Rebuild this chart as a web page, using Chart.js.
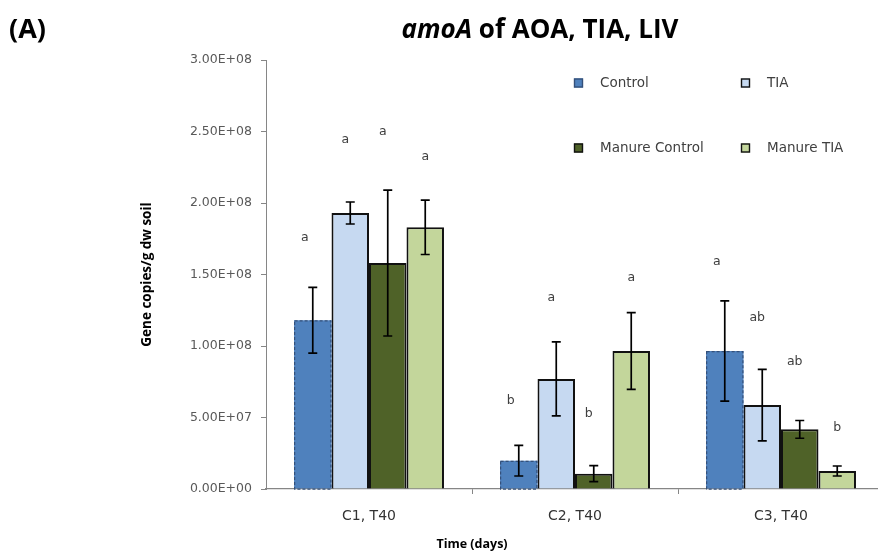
<!DOCTYPE html>
<html lang="en">
<head>
  <meta charset="UTF-8" />
  <title>amoA of AOA, TIA, LIV</title>
  <script src="https://cdn.jsdelivr.net/npm/chart.js"></script>
  <style>
    html, body {
      margin: 0;
      background: #fff;
      overflow: hidden;
    }
    #wrap {
      width: 886px;
      height: 552px;
    }
  </style>
</head>
<body>
  <div id="wrap"><canvas id="amoaChart" width="886" height="552"></canvas></div>

  <script>
    const categories = ['C1, T40', 'C2, T40', 'C3, T40'];
    const seriesNames = ['Control', 'TIA', 'Manure Control', 'Manure TIA'];

    // gene copies per g dry soil
    const control = [1.18e8, 1.98e7, 9.65e7];
    const tia = [1.93e8, 7.7e7, 5.87e7];
    const manureControl = [1.58e8, 1.07e7, 4.17e7];
    const manureTia = [1.83e8, 9.65e7, 1.26e7];

    // standard errors
    const controlErr = [2.3e7, 1.07e7, 3.5e7];
    const tiaErr = [7.7e6, 2.59e7, 2.5e7];
    const manureControlErr = [5.1e7, 5.6e6, 6.2e6];
    const manureTiaErr = [1.9e7, 2.68e7, 3.5e6];

    // significance letters and the height they sit at
    const controlLetters = ['a', 'b', 'a'];
    const tiaLetters = ['a', 'a', 'ab'];
    const manureControlLetters = ['a', 'b', 'ab'];
    const manureTiaLetters = ['a', 'a', 'b'];
    const controlLetterAt = [1.755e8, 6.17e7, 1.59e8];
    const tiaLetterAt = [2.44e8, 1.336e8, 1.198e8];
    const manureControlLetterAt = [2.497e8, 5.24e7, 8.9e7];
    const manureTiaLetterAt = [2.32e8, 1.476e8, 4.29e7];

    const yTicks = [0, 5e7, 1e8, 1.5e8, 2e8, 2.5e8, 3e8];

    const FONT = "'DejaVu Sans', sans-serif";
    const BOLD = "'Open Sans', sans-serif";
    const AXIS = '#868686';

    function sci(v) {
      const [m, e] = v.toExponential(2).split('e');
      return m + 'E' + e[0] + e.slice(1).padStart(2, '0');
    }

    const datasets = [
      { label: seriesNames[0], data: control, err: controlErr, letters: controlLetters, letterAt: controlLetterAt,
        backgroundColor: '#4f81bd', borderWidth: 0, dashed: true, shift: -8 },
      { label: seriesNames[1], data: tia, err: tiaErr, letters: tiaLetters, letterAt: tiaLetterAt,
        backgroundColor: '#c6d9f1', borderColor: '#111', borderWidth: 2, shift: -5 },
      { label: seriesNames[2], data: manureControl, err: manureControlErr, letters: manureControlLetters, letterAt: manureControlLetterAt,
        backgroundColor: '#4f6228', borderColor: '#111', borderWidth: 2, shift: -5 },
      { label: seriesNames[3], data: manureTia, err: manureTiaErr, letters: manureTiaLetters, letterAt: manureTiaLetterAt,
        backgroundColor: '#c3d69b', borderColor: '#111', borderWidth: 2, shift: 0 }
    ];

    // dashed outline, error bars and letters on top of the bars
    const barExtras = {
      id: 'barExtras',
      afterDatasetsDraw(chart) {
        const ctx = chart.ctx;
        const y = chart.scales.y;
        chart.data.datasets.forEach((ds, i) => {
          const meta = chart.getDatasetMeta(i);
          meta.data.forEach((el, j) => {
            const left = el.x - el.width / 2;
            ctx.save();
            if (ds.dashed) {
              ctx.strokeStyle = '#34507a';
              ctx.lineWidth = 1.2;
              ctx.setLineDash([3, 2]);
              ctx.strokeRect(left + 0.6, el.y + 0.6, el.width - 1.2, el.base - el.y);
              ctx.setLineDash([]);
            }
            const top = y.getPixelForValue(ds.data[j] + ds.err[j]);
            const bot = y.getPixelForValue(ds.data[j] - ds.err[j]);
            ctx.strokeStyle = '#000';
            ctx.lineWidth = 1.7;
            ctx.beginPath();
            ctx.moveTo(el.x, top);
            ctx.lineTo(el.x, bot);
            ctx.moveTo(el.x - 4.5, top);
            ctx.lineTo(el.x + 4.5, top);
            ctx.moveTo(el.x - 4.5, bot);
            ctx.lineTo(el.x + 4.5, bot);
            ctx.stroke();

            ctx.fillStyle = '#404040';
            ctx.font = '12.5px ' + FONT;
            ctx.textAlign = 'center';
            ctx.textBaseline = 'middle';
            ctx.fillText(ds.letters[j], el.x + ds.shift, y.getPixelForValue(ds.letterAt[j]));
            ctx.restore();
          });
        });
      }
    };

    // titles and the two-row legend
    const decorations = {
      id: 'decorations',
      afterDraw(chart) {
        const ctx = chart.ctx;
        const x = chart.scales.x;
        const area = chart.chartArea;
        ctx.save();
        ctx.fillStyle = '#000';
        ctx.textBaseline = 'middle';

        ctx.font = 'bold 27px ' + BOLD;
        ctx.textAlign = 'left';
        ctx.fillText('(A)', 9, 30);

        const italicPart = 'amoA';
        const restPart = ' of AOA, TIA, LIV';
        ctx.font = 'italic bold 26px ' + BOLD;
        const w1 = ctx.measureText(italicPart).width;
        ctx.font = 'bold 26px ' + BOLD;
        const w2 = ctx.measureText(restPart).width;
        const start = 540 - (w1 + w2) / 2;
        ctx.font = 'italic bold 26px ' + BOLD;
        ctx.fillText(italicPart, start, 31);
        ctx.font = 'bold 26px ' + BOLD;
        ctx.fillText(restPart, start + w1, 31);

        ctx.font = 'bold 12.5px ' + BOLD;
        ctx.textAlign = 'center';
        ctx.fillText('Time (days)', x.getPixelForValue(0.5), 544);

        ctx.save();
        ctx.translate(147, (area.top + area.bottom) / 2);
        ctx.rotate(-Math.PI / 2);
        ctx.font = 'bold 13.5px ' + BOLD;
        ctx.fillText('Gene copies/g dw soil', 0, 0);
        ctx.restore();

        // legend, 2 x 2
        const cols = [574, 741];
        const rows = [83, 148];
        chart.data.datasets.forEach((ds, i) => {
          const cx = cols[i % 2];
          const cy = rows[Math.floor(i / 2)];
          ctx.fillStyle = ds.backgroundColor;
          ctx.fillRect(cx, cy - 4.5, 9, 9);
          ctx.strokeStyle = ds.dashed ? '#34507a' : '#111';
          ctx.lineWidth = 1.4;
          ctx.strokeRect(cx + 0.5, cy - 4, 8, 8);
          ctx.fillStyle = '#404040';
          ctx.font = '13.5px ' + FONT;
          ctx.textAlign = 'left';
          ctx.fillText(ds.label, cx + 26, cy);
        });
        ctx.restore();
      }
    };

    new Chart(document.getElementById('amoaChart').getContext('2d'), {
      type: 'bar',
      data: { labels: categories, datasets: datasets },
      options: {
        responsive: false,
        animation: false,
        categoryPercentage: 0.728,
        barPercentage: 1,
        layout: { padding: { top: 60, right: 2, left: 0, bottom: 0 } },
        plugins: {
          legend: { display: false },
          tooltip: { enabled: false }
        },
        scales: {
          x: {
            afterFit(scale) { scale.height = 63; },
            grid: {
              drawOnChartArea: false,
              drawTicks: true,
              tickLength: 5,
              color: (c) => (c.index === 0 || c.index === categories.length) ? 'rgba(0,0,0,0)' : AXIS
            },
            border: { display: true, color: AXIS, width: 1.2 },
            ticks: {
              color: '#333',
              padding: 14,
              font: { family: FONT, size: 14 }
            }
          },
          y: {
            min: 0,
            max: 3e8,
            afterFit(scale) { scale.width = 266; },
            afterBuildTicks(scale) { scale.ticks = yTicks.map(v => ({ value: v })); },
            grid: {
              drawOnChartArea: false,
              drawTicks: true,
              tickLength: 5,
              color: AXIS
            },
            border: { display: true, color: AXIS, width: 1 },
            ticks: {
              color: '#595959',
              padding: 9,
              font: { family: FONT, size: 12.5 },
              callback: (v) => sci(v)
            }
          }
        }
      },
      plugins: [barExtras, decorations]
    });
  </script>
</body>
</html>
